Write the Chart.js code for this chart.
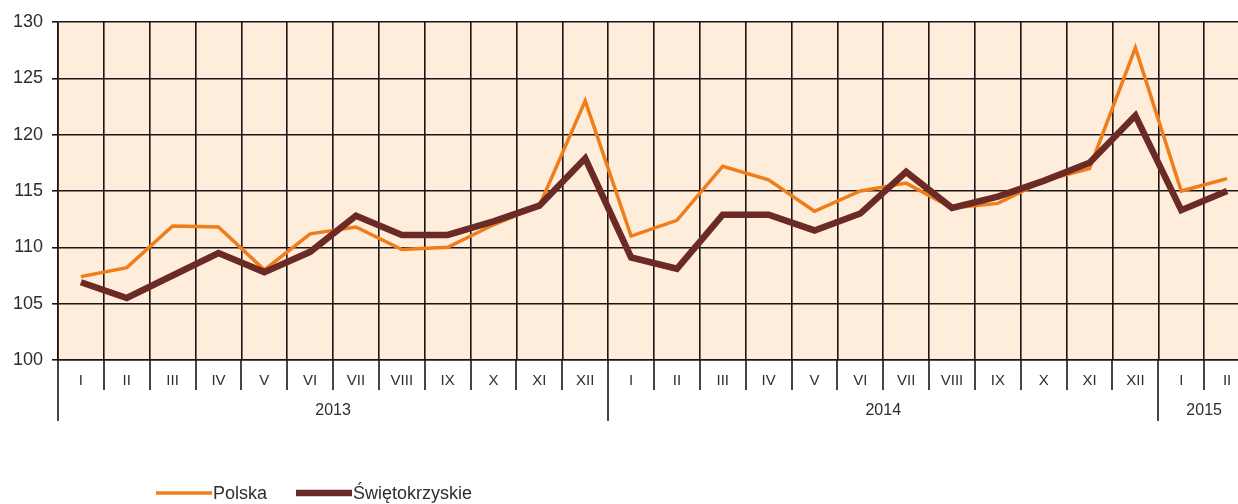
<!DOCTYPE html>
<html>
<head>
<meta charset="utf-8">
<script src="https://cdn.jsdelivr.net/npm/chart.js@4.4.1/dist/chart.umd.min.js"></script>
<style>
  html, body { margin: 0; padding: 0; background: #fff; overflow: hidden; }
  #wrap { position: relative; width: 1260px; height: 504px; }
</style>
</head>
<body>
<div id="wrap"><canvas id="chart" width="1260" height="504"></canvas></div>
<script>
// months, grouped by year
const months = ["I", "II", "III", "IV", "V", "VI", "VII", "VIII", "IX", "X", "XI", "XII",
  "I", "II", "III", "IV", "V", "VI", "VII", "VIII", "IX", "X", "XI", "XII",
  "I", "II"];
const yearLabels = ["2013", "2014", "2015"];
const yearSpans = [12, 12, 2];

const polska = [107.4, 108.2, 111.9, 111.8, 108.0, 111.2, 111.8, 109.8, 110.0, 112.0, 113.7, 123.0,
  111.0, 112.4, 117.2, 116.0, 113.2, 115.0, 115.7, 113.5, 113.9, 115.9, 117.0, 127.7,
  115.0, 116.1];
const swietokrzyskie = [106.9, 105.5, 107.5, 109.5, 107.8, 109.6, 112.8, 111.1, 111.1, 112.3, 113.7, 117.9,
  109.1, 108.1, 112.9, 112.9, 111.5, 113.0, 116.7, 113.5, 114.5, 115.9, 117.5, 121.7,
  113.3, 115.0];

const yMin = 100;
const yMax = 130;
const yStep = 5;

const ORANGE = "#f07d1a";
const BROWN = "#6c2a25";
const GRID = "#1c1414";
const TEXT = "#2e2e2e";
const FONT = "'Liberation Sans', Arial, sans-serif";

// background of plot area, year row and legend
const extrasPlugin = {
  id: "extras",
  beforeDraw(chart) {
    const { ctx, chartArea } = chart;
    ctx.save();
    ctx.fillStyle = "#fdedda";
    ctx.fillRect(chartArea.left, chartArea.top, chartArea.right - chartArea.left, chartArea.bottom - chartArea.top);
    ctx.restore();
  },
  afterDraw(chart) {
    const { ctx, chartArea } = chart;
    const x = chart.scales.x;
    const bottom = chartArea.bottom;

    const edge = (i) => {
      if (i <= 0) return chartArea.left;
      if (i >= months.length) return chartArea.right;
      return (x.getPixelForTick(i - 1) + x.getPixelForTick(i)) / 2;
    };

    // year boundaries
    const yearStarts = [0];
    yearSpans.forEach((n, i) => yearStarts.push(yearStarts[i] + n));

    ctx.save();
    ctx.strokeStyle = GRID;
    ctx.lineWidth = 1.6;
    for (let i = 0; i <= months.length; i++) {
      const isYear = yearStarts.includes(i);
      const px = Math.round(edge(i));
      ctx.beginPath();
      ctx.moveTo(px, bottom);
      ctx.lineTo(px, bottom + (isYear ? 61 : 30));
      ctx.stroke();
    }

    ctx.fillStyle = TEXT;
    ctx.font = "16px " + FONT;
    ctx.textAlign = "center";
    ctx.textBaseline = "middle";
    yearLabels.forEach((lab, i) => {
      const cx = (edge(yearStarts[i]) + edge(yearStarts[i + 1])) / 2;
      ctx.fillText(lab, cx, bottom + 51);
    });

    // legend
    const legend = [
      { label: "Polska", color: ORANGE, width: 3.5, x: 156 },
      { label: "Świętokrzyskie", color: BROWN, width: 6.5, x: 296 }
    ];
    ctx.font = "18px " + FONT;
    ctx.textAlign = "left";
    legend.forEach((item) => {
      ctx.strokeStyle = item.color;
      ctx.lineWidth = item.width;
      ctx.beginPath();
      ctx.moveTo(item.x, 493);
      ctx.lineTo(item.x + 56, 493);
      ctx.stroke();
      ctx.fillStyle = TEXT;
      ctx.fillText(item.label, item.x + 57, 494);
    });
    ctx.restore();
  }
};

new Chart(document.getElementById("chart"), {
  type: "line",
  data: {
    labels: months,
    datasets: [
      {
        label: "Polska",
        data: polska,
        borderColor: ORANGE,
        borderWidth: 3.5,
        pointRadius: 0,
        tension: 0,
        order: 1
      },
      {
        label: "Świętokrzyskie",
        data: swietokrzyskie,
        borderColor: BROWN,
        borderWidth: 6.5,
        pointRadius: 0,
        tension: 0,
        order: 0
      }
    ]
  },
  options: {
    responsive: false,
    animation: false,
    layout: { padding: { top: 22, left: 0, right: 10, bottom: 0 } },
    plugins: {
      legend: { display: false },
      tooltip: { enabled: false }
    },
    scales: {
      x: {
        type: "category",
        offset: true,
        grid: { offset: true, color: GRID, lineWidth: 1.6, drawTicks: false },
        border: { color: GRID, width: 1.6 },
        ticks: {
          autoSkip: false,
          maxRotation: 0,
          padding: 12,
          color: TEXT,
          font: { family: FONT, size: 15 }
        },
        afterFit(scale) { scale.height = 144; }
      },
      y: {
        min: yMin,
        max: yMax,
        ticks: {
          stepSize: yStep,
          padding: 9,
          color: TEXT,
          font: { family: FONT, size: 18 }
        },
        grid: { color: GRID, lineWidth: 1.6, tickLength: 6 },
        border: { color: GRID, width: 1.6 },
        afterFit(scale) { scale.width = 58; }
      }
    }
  },
  plugins: [extrasPlugin]
});
</script>
</body>
</html>
